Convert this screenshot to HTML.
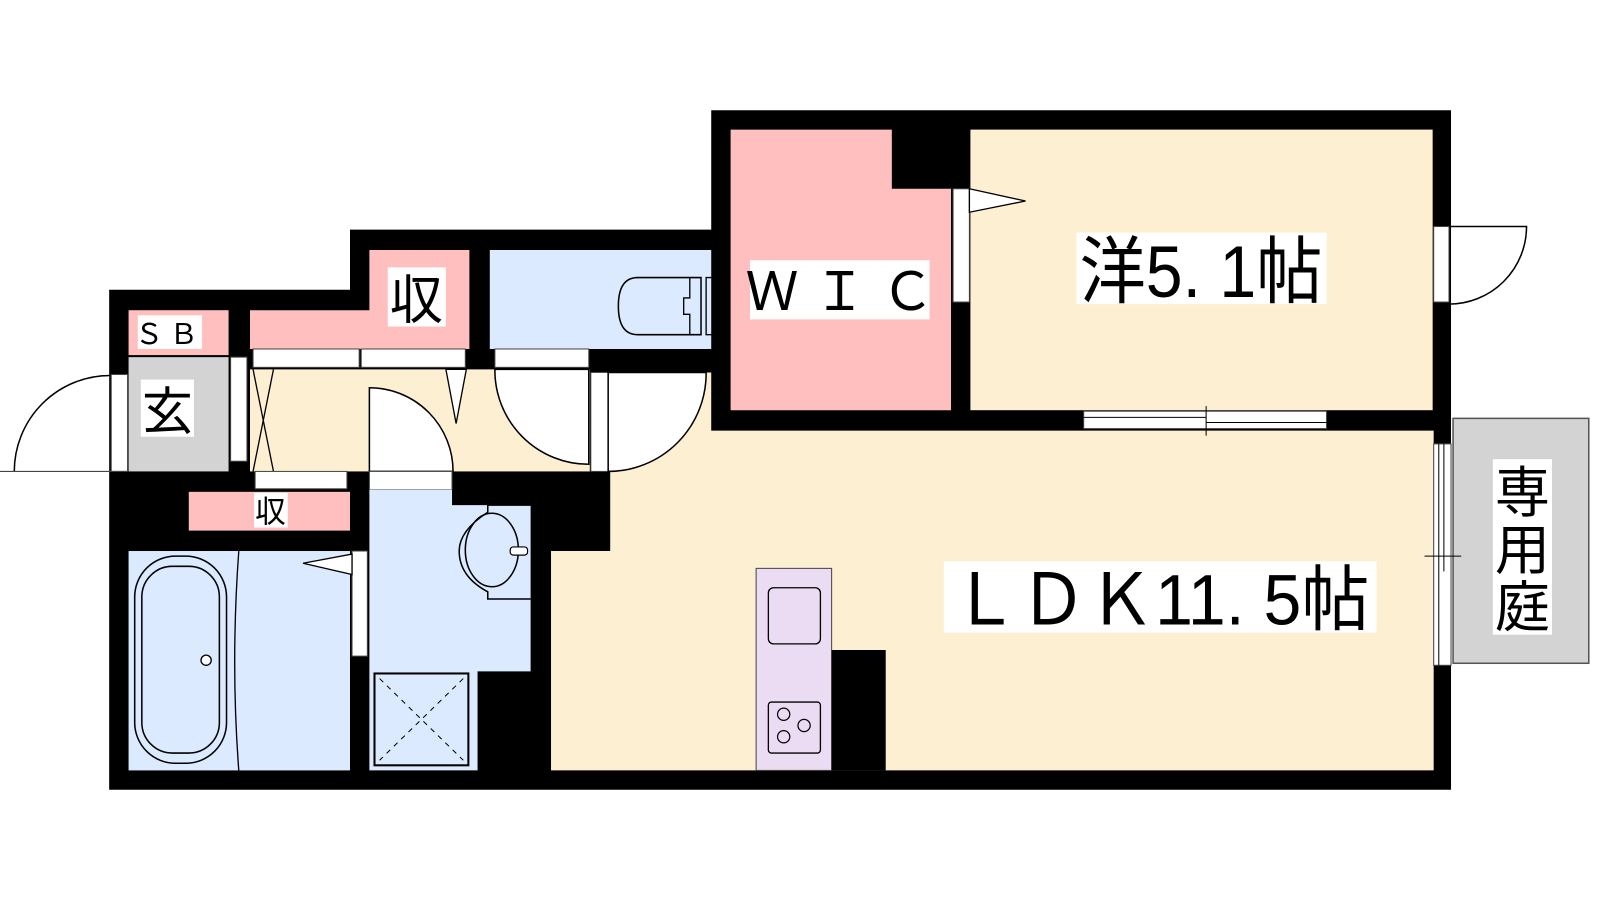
<!DOCTYPE html>
<html><head><meta charset="utf-8"><style>
html,body{margin:0;padding:0;background:#fff;width:1600px;height:900px;overflow:hidden}
svg{display:block}
text{font-family:"Liberation Sans","Noto Sans CJK JP",sans-serif;fill:#000}
</style></head><body>
<svg width="1600" height="900" viewBox="0 0 1568 882" preserveAspectRatio="none" xmlns="http://www.w3.org/2000/svg">
<polygon points="107,284 343,284 343,225 697,225 697,108 1422,108 1422,774 107,774" fill="#000"/>
<rect x="1424" y="410" width="133" height="240" fill="#d3d3d3" stroke="#555" stroke-width="1.5"/>
<rect x="126" y="304" width="98" height="44" fill="#ffbfbf"/>
<rect x="126" y="350" width="98" height="112" fill="#d3d3d3"/>
<rect x="109" y="367" width="16" height="95" fill="#fff" stroke="#444" stroke-width="1"/>
<path d="M14,462 A94,94 0 0 1 108,368" fill="#fff" stroke="#000" stroke-width="1.5"/>
<line x1="0" y1="462" x2="125" y2="462" stroke="#444" stroke-width="1"/>
<rect x="226" y="350" width="16" height="102" fill="#fff" stroke="#444" stroke-width="1"/>
<polygon points="245,304 362,304 362,245 460,245 460,342 245,342" fill="#ffbfbf"/>
<rect x="245" y="362" width="333" height="100" fill="#fdf0d2"/>
<rect x="248" y="342" width="104" height="18" fill="#fff" stroke="#444" stroke-width="1"/>
<rect x="354" y="342" width="102" height="18" fill="#fff" stroke="#444" stroke-width="1"/>
<line x1="248" y1="362" x2="268" y2="462" stroke="#000" stroke-width="1.3"/>
<line x1="268" y1="362" x2="248" y2="462" stroke="#000" stroke-width="1.3"/>
<polygon points="437,362 457,362 447,415" fill="#fff" stroke="#000" stroke-width="1.3"/>
<rect x="480" y="245" width="217" height="97" fill="#dbeafe"/>
<path d="M687,272 L625,272 Q606,272 606,300 Q606,328 625,328 L687,328 Z" fill="none" stroke="#000" stroke-width="1.5"/>
<path d="M676,272 V292 H670 V308 H676 V328" fill="none" stroke="#000" stroke-width="1.3"/>
<rect x="692" y="272" width="8" height="56" fill="none" stroke="#000" stroke-width="1.3"/>
<rect x="485" y="342" width="92" height="18" fill="#fff" stroke="#444" stroke-width="1"/>
<path d="M485,362 A92,92 0 0 0 577,455 L577,362 Z" fill="#fff" stroke="#000" stroke-width="1.5"/>
<polygon points="598,365 697,365 697,422 1405,422 1405,755 540,755 540,540 598,540" fill="#fdf0d2"/>
<rect x="579" y="365" width="17" height="97" fill="#fff" stroke="#444" stroke-width="1"/>
<path d="M596,462 A96,96 0 0 0 692,365 L596,365 Z" fill="#fff" stroke="#000" stroke-width="1.5"/>
<path d="M362,462 L362,380 A82,82 0 0 1 444,462 Z" fill="#fff" stroke="#000" stroke-width="1.5"/>
<rect x="362" y="462" width="81" height="18" fill="#fff" stroke="#444" stroke-width="1"/>
<rect x="250" y="462" width="90" height="17" fill="#fff" stroke="#444" stroke-width="1"/>
<rect x="185" y="482" width="158" height="38" fill="#ffbfbf"/>
<rect x="126" y="540" width="217" height="215" fill="#dbeafe"/>
<rect x="132" y="545" width="90" height="203" rx="40" fill="none" stroke="#000" stroke-width="1.5"/>
<rect x="139" y="555" width="76" height="183" rx="30" fill="none" stroke="#000" stroke-width="1.5"/>
<circle cx="202" cy="647" r="5" fill="#fff" stroke="#000" stroke-width="1.3"/>
<path d="M234,540 Q226,650 234,755" fill="none" stroke="#000" stroke-width="1.3"/>
<rect x="345" y="540" width="15" height="103" fill="#fff" stroke="#444" stroke-width="1"/>
<polygon points="297,552 345,543 345,563" fill="#fff" stroke="#000" stroke-width="1.3"/>
<polygon points="362,480 443,480 443,495 520,495 520,658 468,658 468,755 362,755" fill="#dbeafe"/>
<path d="M520,495 L478,495 L478,502 Q450,520 450,540 Q450,565 478,580 L478,587 L520,587" fill="none" stroke="#000" stroke-width="1.5"/>
<ellipse cx="482" cy="539" rx="26" ry="36" fill="none" stroke="#000" stroke-width="1.5"/>
<rect x="500" y="536" width="17" height="8" rx="3" fill="#fff" stroke="#000" stroke-width="1.2"/>
<rect x="367" y="660" width="92" height="90" fill="none" stroke="#000" stroke-width="2"/>
<line x1="372" y1="665" x2="454" y2="745" stroke="#000" stroke-width="1" stroke-dasharray="5,5"/>
<line x1="454" y1="665" x2="372" y2="745" stroke="#000" stroke-width="1" stroke-dasharray="5,5"/>
<rect x="741" y="557" width="74" height="198" fill="#ecdcf3" stroke="#444" stroke-width="1"/>
<rect x="815" y="637" width="53" height="118" fill="#000"/>
<rect x="753" y="576" width="51" height="55" rx="5" fill="none" stroke="#000" stroke-width="1.3"/>
<rect x="753" y="688" width="51" height="50" rx="3" fill="none" stroke="#000" stroke-width="1.3"/>
<circle cx="768" cy="700" r="6" fill="none" stroke="#000" stroke-width="1.2"/>
<circle cx="788" cy="711" r="6" fill="none" stroke="#000" stroke-width="1.2"/>
<circle cx="768" cy="722" r="6" fill="none" stroke="#000" stroke-width="1.2"/>
<polygon points="716,127 874,127 874,185 932,185 932,402 716,402" fill="#ffbfbf"/>
<rect x="951" y="127" width="453" height="275" fill="#fdf0d2"/>
<rect x="934" y="185" width="16" height="111" fill="#fff" stroke="#444" stroke-width="1"/>
<polygon points="950,185 1005,197 950,208" fill="#fff" stroke="#000" stroke-width="1.3"/>
<rect x="1062" y="403" width="238" height="17" fill="#fff" stroke="#444" stroke-width="1"/>
<line x1="1062" y1="409" x2="1182" y2="409" stroke="#000" stroke-width="1"/>
<line x1="1182" y1="414" x2="1300" y2="414" stroke="#000" stroke-width="1"/>
<line x1="1182" y1="398" x2="1182" y2="427" stroke="#000" stroke-width="1"/>
<rect x="1405" y="222" width="15" height="74" fill="#fff" stroke="#444" stroke-width="1"/>
<path d="M1420,222 L1496,222 A76,76 0 0 1 1420,298" fill="none" stroke="#000" stroke-width="1.5"/>
<rect x="1405" y="435" width="17" height="217" fill="#fff" stroke="#444" stroke-width="1"/>
<line x1="1410" y1="435" x2="1410" y2="652" stroke="#000" stroke-width="1"/>
<line x1="1415" y1="435" x2="1415" y2="560" stroke="#000" stroke-width="1"/>
<line x1="1396" y1="545" x2="1432" y2="545" stroke="#000" stroke-width="1"/>
<rect x="135" y="309" width="63" height="33" fill="#fff"/>
<text x="166" y="337" font-size="28" text-anchor="middle" letter-spacing="6">ＳＢ</text>
<rect x="138" y="372" width="52" height="56" fill="#fff"/>
<text x="164" y="421" font-size="50" text-anchor="middle">玄</text>
<rect x="380" y="262" width="57" height="58" fill="#fff"/>
<text x="408" y="312" font-size="52" text-anchor="middle">収</text>
<rect x="249" y="483" width="33" height="34" fill="#fff"/>
<text x="265" y="512" font-size="30" text-anchor="middle">収</text>
<rect x="735" y="255" width="176" height="58" fill="#fff"/>
<text x="823" y="304" font-size="52" text-anchor="middle">Ｗ Ｉ Ｃ</text>
<rect x="1055" y="228" width="245" height="70" fill="#fff"/>
<text x="1177" y="291" font-size="72" text-anchor="middle" textLength="238" lengthAdjust="spacingAndGlyphs">洋5. 1帖</text>
<rect x="925" y="550" width="424" height="70" fill="#fff"/>
<text x="1137" y="612" font-size="70" text-anchor="middle" textLength="410" lengthAdjust="spacingAndGlyphs">ＬＤＫ11. 5帖</text>
<rect x="1463" y="450" width="58" height="172" fill="#fff"/>
<text x="1492" y="502" font-size="54" text-anchor="middle">専</text>
<text x="1492" y="558" font-size="54" text-anchor="middle">用</text>
<text x="1492" y="614" font-size="54" text-anchor="middle">庭</text>
</svg>
</body></html>
